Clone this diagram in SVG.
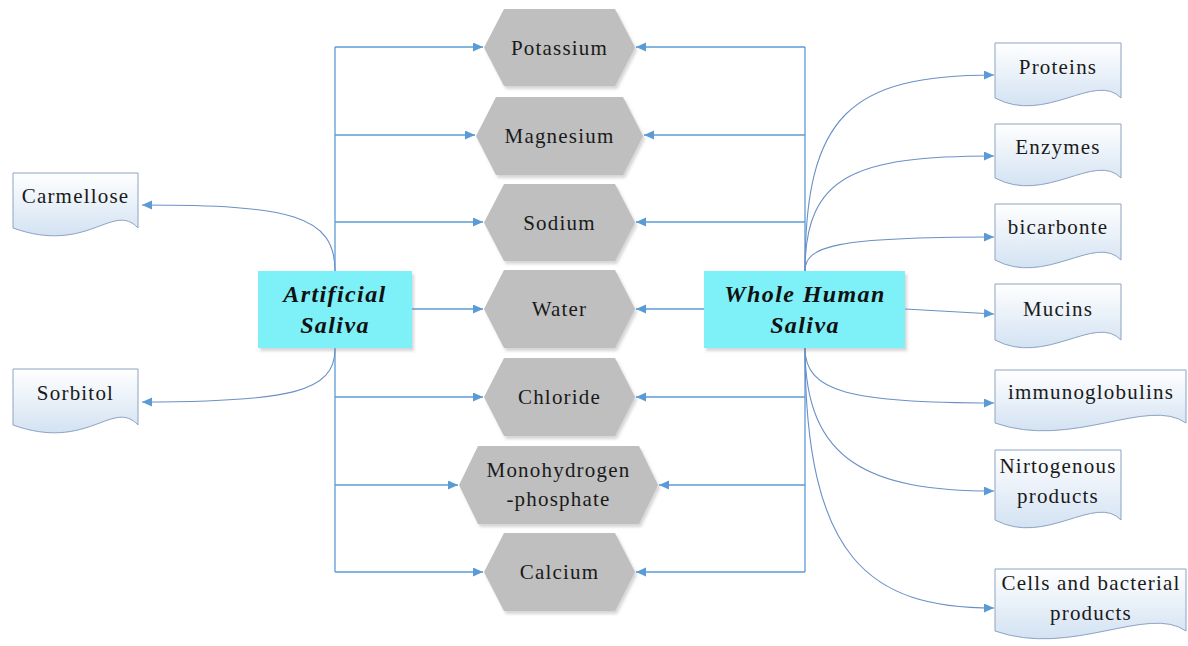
<svg xmlns="http://www.w3.org/2000/svg" width="1188" height="646" viewBox="0 0 1188 646">
<defs>
<marker id="arr" markerUnits="userSpaceOnUse" markerWidth="11" markerHeight="10" refX="10" refY="4.5" orient="auto">
<path d="M0,0 L10,4.5 L0,9 z" fill="#5b9bd5"/>
</marker>
<linearGradient id="docg" x1="0" y1="0" x2="0" y2="1">
<stop offset="0" stop-color="#ffffff"/>
<stop offset="1" stop-color="#d3e2f2"/>
</linearGradient>
<filter id="sh" x="-10%" y="-10%" width="125%" height="130%">
<feDropShadow dx="2" dy="3" stdDeviation="1.5" flood-color="#888" flood-opacity="0.35"/>
</filter>
</defs>
<style>
.ln{fill:none;stroke:#5b9bd5;stroke-width:1.3}
.cv{fill:none;stroke:#6a90c8;stroke-width:1.1}
.hex{fill:#bfbfbf;filter:url(#sh)}
.doc{fill:url(#docg);stroke:#8da3c2;stroke-width:1}
.box{fill:#7ef0f8;filter:url(#sh)}
text{font-family:'Liberation Serif','Times New Roman',Tinos,'Noto Serif','DejaVu Serif',Georgia,serif}
.t{font-size:21px;letter-spacing:1.2px;fill:#1a1a1a;text-anchor:middle}
.b{font-size:24px;font-weight:bold;font-style:italic;letter-spacing:1.4px;fill:#111;text-anchor:middle}
</style>
<rect width="1188" height="646" fill="#ffffff"/>

<g id="connectors">
<path class="ln" d="M335,47 V572"/>
<path class="ln" d="M805,47 V572"/>
<path class="ln" d="M335,47 H483" marker-end="url(#arr)"/>
<path class="ln" d="M335,135 H475" marker-end="url(#arr)"/>
<path class="ln" d="M335,222 H483" marker-end="url(#arr)"/>
<path class="ln" d="M412,309 H483" marker-end="url(#arr)"/>
<path class="ln" d="M335,397 H483" marker-end="url(#arr)"/>
<path class="ln" d="M335,485 H458" marker-end="url(#arr)"/>
<path class="ln" d="M335,572 H483" marker-end="url(#arr)"/>
<path class="ln" d="M805,47 H636" marker-end="url(#arr)"/>
<path class="ln" d="M805,135 H644" marker-end="url(#arr)"/>
<path class="ln" d="M805,222 H636" marker-end="url(#arr)"/>
<path class="ln" d="M704,309 H636" marker-end="url(#arr)"/>
<path class="ln" d="M805,397 H636" marker-end="url(#arr)"/>
<path class="ln" d="M805,485 H659" marker-end="url(#arr)"/>
<path class="ln" d="M805,572 H636" marker-end="url(#arr)"/>
<path class="cv" d="M335,271 C335,215 290,205 142,205" marker-end="url(#arr)"/>
<path class="cv" d="M335,349 C335,392 290,402 142,402" marker-end="url(#arr)"/>
<path class="cv" d="M805,271 C805,115 850,75 994,75" marker-end="url(#arr)"/>
<path class="cv" d="M805,271 C805,175 855,156 994,156" marker-end="url(#arr)"/>
<path class="cv" d="M805,271 C805,246 835,237 994,237" marker-end="url(#arr)"/>
<path class="cv" d="M905,309 L994,314" marker-end="url(#arr)"/>
<path class="cv" d="M805,348 C805,392 850,403 994,403" marker-end="url(#arr)"/>
<path class="cv" d="M805,348 C805,462 870,491 994,491" marker-end="url(#arr)"/>
<path class="cv" d="M805,348 C805,560 870,608 994,608" marker-end="url(#arr)"/>
</g>

<g id="potassium"><polygon class="hex" points="484,47.5 504,9 615,9 635,47.5 615,86 504,86"/><text class="t" x="559.5" y="55">Potassium</text></g>
<g id="magnesium"><polygon class="hex" points="476,136 496,97 623,97 643,136 623,175 496,175"/><text class="t" x="559.5" y="143">Magnesium</text></g>
<g id="sodium"><polygon class="hex" points="484,222.5 504,184 615,184 635,222.5 615,261 504,261"/><text class="t" x="559.5" y="230">Sodium</text></g>
<g id="water"><polygon class="hex" points="484,309 504,270 615,270 635,309 615,348 504,348"/><text class="t" x="559.5" y="316">Water</text></g>
<g id="chloride"><polygon class="hex" points="484,397 504,358 615,358 635,397 615,436 504,436"/><text class="t" x="559.5" y="404">Chloride</text></g>
<g id="monohydrogen-phosphate"><polygon class="hex" points="459,485 478,446 639,446 658,485 639,524 478,524"/><text class="t" x="558.5" y="477">Monohydrogen</text><text class="t" x="558.5" y="506">-phosphate</text></g>
<g id="calcium"><polygon class="hex" points="484,572 504,533 615,533 635,572 615,611 504,611"/><text class="t" x="559.5" y="579">Calcium</text></g>

<g id="artificial-saliva"><rect class="box" x="258" y="271" width="154" height="77"/><text class="b" x="335" y="302">Artificial</text><text class="b" x="335" y="333">Saliva</text></g>
<g id="whole-human-saliva"><rect class="box" x="704" y="271" width="201" height="77"/><text class="b" x="805" y="302">Whole Human</text><text class="b" x="805" y="333">Saliva</text></g>

<g id="carmellose"><path class="doc" d="M13,173 H138 V228 C113,201 88,255 13,228 Z"/><text class="t" x="75.5" y="203">Carmellose</text></g>
<g id="sorbitol"><path class="doc" d="M13,369 H138 V425 C113,398 88,452 13,425 Z"/><text class="t" x="75.5" y="400">Sorbitol</text></g>

<g id="proteins"><path class="doc" d="M995,43 H1121 V98 C1095.4,71 1045.6,125 995,98 Z"/><text class="t" x="1058" y="74">Proteins</text></g>
<g id="enzymes"><path class="doc" d="M995,124 H1121 V178 C1095.4,151 1045.6,205 995,178 Z"/><text class="t" x="1058" y="154">Enzymes</text></g>
<g id="bicarbonte"><path class="doc" d="M995,204 H1121 V260 C1095.4,233 1045.6,287 995,260 Z"/><text class="t" x="1058" y="234">bicarbonte</text></g>
<g id="mucins"><path class="doc" d="M995,284 H1121 V340 C1095.4,313 1045.6,367 995,340 Z"/><text class="t" x="1058" y="316">Mucins</text></g>
<g id="immunoglobulins"><path class="doc" d="M995,370 H1186 V423 C1147.8,396 1071.4,450 995,423 Z"/><text class="t" x="1091" y="399">immunoglobulins</text></g>
<g id="nirtogenous-products"><path class="doc" d="M995,450 H1121 V520 C1095.4,493 1045.6,547 995,520 Z"/><text class="t" x="1058" y="473">Nirtogenous</text><text class="t" x="1058" y="503">products</text></g>
<g id="cells-bacterial-products"><path class="doc" d="M995,569 H1186 V631 C1147.8,604 1071.4,658 995,631 Z"/><text class="t" x="1091" y="590">Cells and bacterial</text><text class="t" x="1091" y="620">products</text></g>
</svg>
